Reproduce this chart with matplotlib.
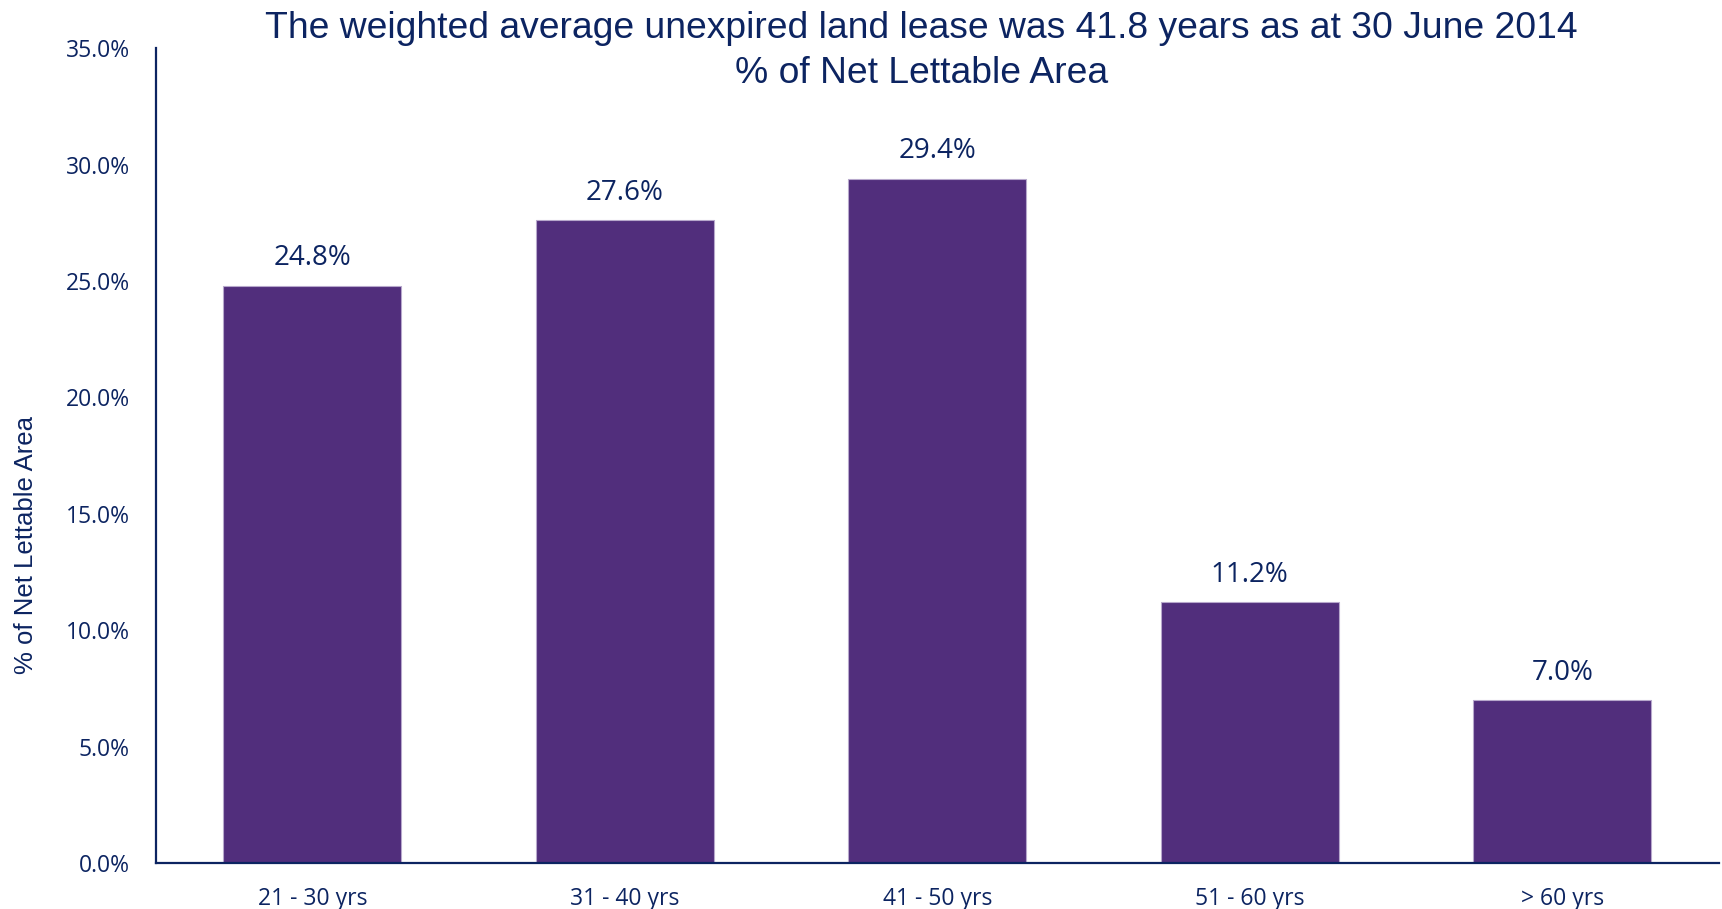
import matplotlib.pyplot as plt
from matplotlib.ticker import FuncFormatter

categories = ["21 - 30 yrs", "31 - 40 yrs", "41 - 50 yrs", "51 - 60 yrs", "> 60 yrs"]
nla_pct = [24.8, 27.6, 29.4, 11.2, 7.0]

navy = "#0c2461"
purple = "#512e7c"


def visualize():
    fig = plt.figure(figsize = (17.22, 9.09), dpi = 100)
    ax = fig.add_axes([0.0906, 0.0506, 0.9074, 0.8964])

    x = range(len(categories))
    bars = ax.bar(x, nla_pct, width = 0.57, color = purple, edgecolor = "#b7a8cc", linewidth = 0.8)

    for b, v in zip(bars, nla_pct):
        ax.annotate(f"{v:.1f}%", (b.get_x() + b.get_width() / 2, v), xytext = (0, 9.5),
                    textcoords = "offset points", ha = "center", va = "bottom",
                    fontsize = 20, color = navy, family = "Open Sans")

    ax.set_xlim(-0.5, len(categories) - 0.5)
    ax.set_ylim(0, 35)
    ax.set_yticks([0, 5, 10, 15, 20, 25, 30, 35])
    ax.yaxis.set_major_formatter(FuncFormatter(lambda v, p: f"{v:.1f}%"))
    ax.set_xticks(list(x))
    ax.set_xticklabels(categories)

    for lab in ax.get_xticklabels() + ax.get_yticklabels():
        lab.set_family("Open Sans")
        lab.set_fontsize(16.5)
        lab.set_color(navy)
    ax.tick_params(axis = "both", length = 0)
    ax.tick_params(axis = "y", pad = 19)
    ax.tick_params(axis = "x", pad = 17.5)

    for s in ["top", "right"]:
        ax.spines[s].set_visible(False)
    for s in ["left", "bottom"]:
        ax.spines[s].set_color(navy)
        ax.spines[s].set_linewidth(1.6)

    fig.text(0.535, 0.969, "The weighted average unexpired land lease was 41.8 years as at 30 June 2014",
             ha = "center", va = "center", fontsize = 26.8, color = navy, family = "Liberation Sans")
    fig.text(0.535, 0.919, "% of Net Lettable Area", ha = "center", va = "center",
             fontsize = 26.8, color = navy, family = "Liberation Sans")
    fig.text(0.015, 0.40, "% of Net Lettable Area", rotation = 90, ha = "center", va = "center",
             fontsize = 18.5, color = navy, family = "Liberation Sans")

    fig.savefig("out.png", dpi = 100)


if __name__ == "__main__":
    visualize()
